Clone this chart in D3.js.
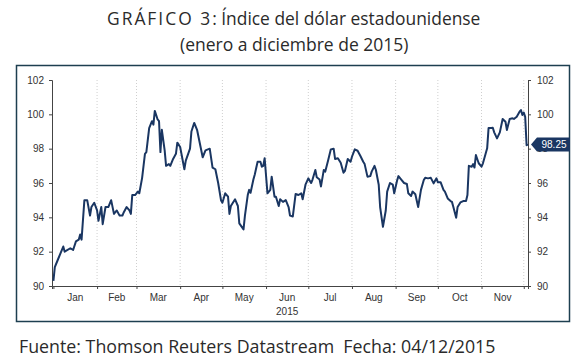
<!DOCTYPE html>
<html>
<head>
<meta charset="utf-8">
<script src="https://cdn.jsdelivr.net/npm/d3@7"></script>
<style>
  body { margin: 0; background: #fff; }
</style>
</head>
<body>
<div id="chart"></div>
<script>
// Dates (2015) and index values
const dates = [
  '2015-01-01','2015-01-02','2015-01-04','2015-01-08','2015-01-09','2015-01-13','2015-01-15','2015-01-17',
  '2015-01-19','2015-01-20','2015-01-21','2015-01-23','2015-01-25','2015-01-27','2015-01-28','2015-01-30',
  '2015-02-01','2015-02-02','2015-02-04','2015-02-05','2015-02-07','2015-02-09','2015-02-11','2015-02-13',
  '2015-02-15','2015-02-17','2015-02-19','2015-02-20','2015-02-22','2015-02-24','2015-02-25','2015-02-26',
  '2015-02-28','2015-03-02','2015-03-03','2015-03-05','2015-03-07','2015-03-08','2015-03-10','2015-03-12',
  '2015-03-13','2015-03-14','2015-03-16','2015-03-17','2015-03-18','2015-03-19','2015-03-21','2015-03-22',
  '2015-03-24','2015-03-25','2015-03-27','2015-03-29','2015-03-30','2015-04-01','2015-04-04','2015-04-05',
  '2015-04-08','2015-04-09','2015-04-11','2015-04-13','2015-04-15','2015-04-17','2015-04-19','2015-04-22',
  '2015-04-24','2015-04-26','2015-04-28','2015-04-30','2015-05-01','2015-05-03','2015-05-05','2015-05-06',
  '2015-05-07','2015-05-10','2015-05-12','2015-05-13','2015-05-16','2015-05-17','2015-05-19','2015-05-20',
  '2015-05-21','2015-05-23','2015-05-24','2015-05-26','2015-05-28','2015-05-29','2015-05-30','2015-05-31',
  '2015-06-02','2015-06-04','2015-06-05','2015-06-07','2015-06-08','2015-06-10','2015-06-11','2015-06-13',
  '2015-06-15','2015-06-17','2015-06-18','2015-06-20','2015-06-22','2015-06-24','2015-06-26','2015-06-27',
  '2015-06-29','2015-07-01','2015-07-03','2015-07-04','2015-07-06','2015-07-07','2015-07-09','2015-07-10',
  '2015-07-12','2015-07-13','2015-07-15','2015-07-17','2015-07-19','2015-07-20','2015-07-22','2015-07-24',
  '2015-07-26','2015-07-27','2015-07-29','2015-07-31','2015-08-01','2015-08-03','2015-08-05','2015-08-07',
  '2015-08-09','2015-08-10','2015-08-12','2015-08-14','2015-08-15','2015-08-17','2015-08-18','2015-08-20',
  '2015-08-21','2015-08-23','2015-08-25','2015-08-26','2015-08-28','2015-08-30','2015-08-31','2015-09-02',
  '2015-09-03','2015-09-05','2015-09-07','2015-09-09','2015-09-10','2015-09-12','2015-09-13','2015-09-15',
  '2015-09-17','2015-09-19','2015-09-21','2015-09-22','2015-09-24','2015-09-26','2015-09-28','2015-09-30',
  '2015-10-01','2015-10-03','2015-10-05','2015-10-06','2015-10-08','2015-10-10','2015-10-11','2015-10-12',
  '2015-10-14','2015-10-15','2015-10-17','2015-10-19','2015-10-21','2015-10-22','2015-10-23','2015-10-25',
  '2015-10-26','2015-10-27','2015-10-28','2015-10-30','2015-11-01','2015-11-02','2015-11-04','2015-11-05',
  '2015-11-06','2015-11-08','2015-11-09','2015-11-10','2015-11-12','2015-11-14','2015-11-16','2015-11-18',
  '2015-11-19','2015-11-21','2015-11-23','2015-11-24','2015-11-26','2015-11-28','2015-11-29','2015-11-30',
  '2015-12-01','2015-12-02','2015-12-03','2015-12-04'
];
const values = [
  90.3, 91.1, 91.5, 92.3, 92.0, 92.2, 92.1, 92.6,
  92.7, 93.0, 92.7, 95.0, 95.0, 94.1, 94.6, 94.85,
  94.4, 93.8, 94.6, 93.6, 94.6, 94.6, 95.0, 94.2,
  94.4, 94.1, 94.1, 94.3, 94.6, 94.4, 94.2, 95.3,
  95.3, 95.5, 95.4, 96.3, 97.7, 97.8, 99.2, 99.6,
  99.4, 100.2, 99.7, 99.6, 97.8, 99.1, 97.9, 97.0,
  97.1, 97.0, 97.4, 97.7, 98.35, 98.1, 96.8, 97.3,
  98.0, 99.0, 99.5, 99.1, 98.3, 97.5, 97.9, 98.0,
  96.9, 96.8, 96.0, 95.0, 94.85, 95.4, 95.2, 94.2,
  94.66, 95.05, 94.66, 93.65, 93.3, 94.1, 95.3, 95.6,
  95.43, 96.2, 96.5, 97.24, 97.24, 96.95, 97.0, 97.44,
  95.4, 95.6, 96.37, 95.2, 95.2, 94.66, 95.05, 94.9,
  95.0, 94.6, 94.1, 94.05, 95.36, 95.3, 95.4, 95.05,
  95.9, 96.27, 96.0, 96.2, 96.76, 96.33, 96.2, 95.8,
  96.76, 96.66, 97.3, 97.96, 98.0, 97.4, 97.44, 97.18,
  96.6, 96.7, 97.4, 97.24, 97.53, 97.96, 97.88, 97.57,
  97.24, 97.1, 96.37, 96.4, 96.66, 97.0, 96.76, 95.9,
  94.6, 93.45, 94.4, 95.5, 96.0, 95.9, 95.4, 96.13,
  96.4, 96.2, 96.0, 95.94, 95.4, 95.24, 95.5, 95.34,
  94.6, 95.6, 96.17, 96.3, 96.27, 96.3, 95.98, 96.27,
  96.04, 96.04, 95.6, 95.5, 95.1, 94.95, 94.9, 94.6,
  93.98, 94.6, 94.87, 94.95, 94.95, 95.3, 97.0, 96.95,
  97.1, 96.9, 97.63, 97.15, 96.95, 97.15, 97.73, 98.02,
  99.2, 99.2, 99.22, 98.95, 98.6, 98.95, 99.73, 99.57,
  99.09, 99.73, 99.77, 99.73, 99.86, 100.15, 100.25, 99.96,
  100.1, 99.86, 98.2, 98.25
];
const monthLabels = ['Jan', 'Feb', 'Mar', 'Apr', 'May', 'Jun', 'Jul', 'Aug', 'Sep', 'Oct', 'Nov'];
const yTicks = [90, 92, 94, 96, 98, 100, 102];
const lastLabel = '98.25';

const parse = d3.timeParse('%Y-%m-%d');
const data = dates.map((d, i) => ({ date: parse(d), value: values[i] }));

const width = 581;
const height = 362;
const plot = { left: 52, right: 528, top: 80, bottom: 286 };
const navy = '#1a3662';
const textFont = '"Open Sans", Lato, sans-serif';

const svg = d3.select('#chart')
  .append('svg')
  .attr('width', width)
  .attr('height', height);

// titles
const title = svg.append('text')
  .attr('x', 107).attr('y', 25)
  .style('font-family', textFont)
  .style('font-size', '17.4px')
  .style('fill', '#2a2a2a');
title.append('tspan').style('letter-spacing', '2px').text('GRÁFICO 3');
title.append('tspan').text(': Índice del dólar estadounidense');

svg.append('text')
  .attr('x', 180).attr('y', 51)
  .style('font-family', textFont)
  .style('font-size', '17.5px')
  .style('fill', '#2a2a2a')
  .text('(enero a diciembre de 2015)');

// frame
svg.append('rect')
  .attr('x', 16.5).attr('y', 65.5)
  .attr('width', 553).attr('height', 256)
  .attr('fill', 'none')
  .attr('stroke', '#1d3f50')
  .attr('stroke-width', 1.5);

const x = d3.scaleTime()
  .domain([new Date(2014, 11, 31), new Date(2015, 11, 4)])
  .range([plot.left, plot.right]);

const y = d3.scaleLinear()
  .domain([90, 102])
  .range([plot.bottom, plot.top]);

const monthStarts = d3.range(0, 12).map((m) => new Date(2015, m, 1));

// dotted month gridlines
svg.append('g')
  .selectAll('line')
  .data(monthStarts.slice(1))
  .enter()
  .append('line')
  .attr('x1', (d) => x(d)).attr('x2', (d) => x(d))
  .attr('y1', plot.top).attr('y2', plot.bottom)
  .attr('stroke', '#cfcfcf')
  .attr('stroke-dasharray', '1,2');

const axisFont = (g) => {
  g.selectAll('text')
    .style('font-family', '"Liberation Sans", Arial, sans-serif')
    .style('font-size', '10px')
    .style('fill', '#333');
  g.selectAll('line, path').attr('stroke', '#444');
};

// left axis
svg.append('g')
  .attr('transform', 'translate(' + plot.left + ',0)')
  .call(d3.axisLeft(y).tickValues(yTicks).tickSize(3).tickPadding(5))
  .call(axisFont);

// right axis
svg.append('g')
  .attr('transform', 'translate(' + plot.right + ',0)')
  .call(d3.axisRight(y).tickValues(yTicks).tickSize(3).tickPadding(6))
  .call(axisFont);

// bottom axis: ticks at month starts, labels mid-month
svg.append('g')
  .attr('transform', 'translate(0,' + plot.bottom + ')')
  .call(d3.axisBottom(x).tickValues(monthStarts.concat([new Date(2015, 11, 4)])).tickSize(3).tickFormat(''))
  .call(axisFont);

svg.append('g')
  .selectAll('text')
  .data(monthLabels)
  .enter()
  .append('text')
  .attr('x', (d, i) => (x(monthStarts[i]) + x(i < 11 ? monthStarts[i + 1] : new Date(2015, 11, 1))) / 2)
  .attr('y', plot.bottom + 15)
  .attr('text-anchor', 'middle')
  .style('font-family', '"Liberation Sans", Arial, sans-serif')
  .style('font-size', '10px')
  .style('fill', '#333')
  .text((d) => d);

svg.append('text')
  .attr('x', (x(monthStarts[5]) + x(monthStarts[6])) / 2)
  .attr('y', plot.bottom + 29)
  .attr('text-anchor', 'middle')
  .style('font-family', '"Liberation Sans", Arial, sans-serif')
  .style('font-size', '10px')
  .style('fill', '#333')
  .text('2015');

// line
const line = d3.line()
  .x((d) => x(d.date))
  .y((d) => y(d.value));

svg.append('path')
  .datum(data)
  .attr('d', line)
  .attr('fill', 'none')
  .attr('stroke', navy)
  .attr('stroke-width', 2)
  .attr('stroke-linejoin', 'round');

// last value tag
const last = data[data.length - 1];
const ty = y(last.value);
const tx = plot.right + 3;
svg.append('path')
  .attr('d', 'M' + tx + ',' + ty + 'L' + (tx + 6) + ',' + (ty - 7) + 'H' + (tx + 39) + 'V' + (ty + 7) + 'H' + (tx + 6) + 'Z')
  .attr('fill', navy);
svg.append('text')
  .attr('x', tx + 23).attr('y', ty + 3.5)
  .attr('text-anchor', 'middle')
  .style('font-family', '"Liberation Sans", Arial, sans-serif')
  .style('font-size', '10px')
  .style('fill', '#fff')
  .text(lastLabel);

// source
svg.append('text')
  .attr('x', 19).attr('y', 353)
  .style('font-family', textFont)
  .style('font-size', '17.8px')
  .style('fill', '#2a2a2a')
  .text('Fuente: Thomson Reuters Datastream\u00a0\u00a0Fecha: 04/12/2015');
</script>
</body>
</html>
